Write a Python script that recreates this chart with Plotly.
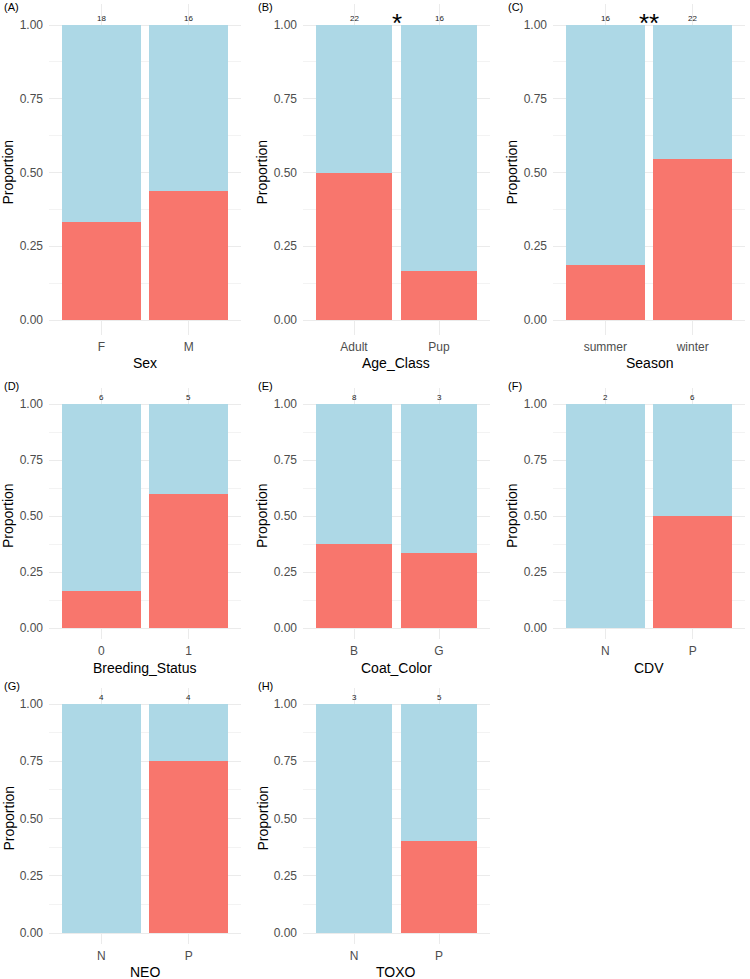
import plotly.graph_objects as go

# ---------------- data ----------------
tags = ["(A)", "(B)", "(C)", "(D)", "(E)", "(F)", "(G)", "(H)"]
variables = ["Sex", "Age_Class", "Season", "Breeding_Status", "Coat_Color", "CDV", "NEO", "TOXO"]
categories = [["F", "M"], ["Adult", "Pup"], ["summer", "winter"], ["0", "1"],
              ["B", "G"], ["N", "P"], ["N", "P"], ["N", "P"]]
positive_prop = [[0.333, 0.4375], [0.5, 0.167], [0.1875, 0.545], [0.167, 0.6],
                 [0.375, 0.333], [0.0, 0.5], [0.0, 0.75], [0.0, 0.4]]
counts = [[18, 16], [22, 16], [16, 22], [6, 5], [8, 3], [2, 6], [4, 4], [3, 5]]
significance = ["", "*", "**", "", "", "", "", ""]
y_ticks = [0, 0.25, 0.5, 0.75, 1.0]
y_tick_labels = ["0.00", "0.25", "0.50", "0.75", "1.00"]

RED = "#F8766D"
BLUE = "#ADD8E6"
FONT = "Liberation Sans, Arial, Helvetica, sans-serif"
W, H = 750, 979

# pixel layout (panel extents)
col_px = [(49, 241), (303, 490), (553, 745)]
# (pixel of y=1, pixel of y=0, x-title offset below y=0)
row_px = [(25, 320, 43), (404, 628, 40), (704, 933, 39)]
YMIN, YMAX = -0.05, 1.07


def px_x(p):
    return p / W


def px_y(p):
    return 1 - p / H


fig = go.Figure()
annotations = []

for i, var in enumerate(variables):
    r, c = divmod(i, 3)
    n = i + 1
    xa = "x" if n == 1 else f"x{n}"
    ya = "y" if n == 1 else f"y{n}"
    cats = categories[i]
    props = positive_prop[i]
    fig.add_trace(go.Bar(x=cats, y=props, marker=dict(color=RED, line=dict(width=0)),
                         width=0.9, xaxis=xa, yaxis=ya, showlegend=False, hoverinfo="skip"))
    fig.add_trace(go.Bar(x=cats, y=[1 - p for p in props], marker=dict(color=BLUE, line=dict(width=0)),
                         width=0.9, xaxis=xa, yaxis=ya, showlegend=False, hoverinfo="skip"))

    x0, x1 = col_px[c]
    y1p, y0p, toff = row_px[r]
    unit = y0p - y1p
    top = y1p - (YMAX - 1) * unit
    bot = y0p - YMIN * unit
    xdom = [px_x(x0), px_x(x1)]
    ydom = [px_y(bot), px_y(top)]

    xkey = "xaxis" if n == 1 else f"xaxis{n}"
    ykey = "yaxis" if n == 1 else f"yaxis{n}"
    fig.update_layout(**{
        xkey: dict(domain=xdom, anchor=ya, type="category", range=[-0.6, 1.6],
                   showgrid=True, gridcolor="#EBEBEB", gridwidth=1,
                   showline=False, zeroline=False, ticks="",
                   ticklabelstandoff=3,
                   tickfont=dict(family=FONT, size=12, color="#4D4D4D")),
        ykey: dict(domain=ydom, anchor=xa, range=[YMIN, YMAX],
                   tickvals=y_ticks, ticktext=y_tick_labels,
                   showgrid=True, gridcolor="#EBEBEB", gridwidth=1,
                   minor=dict(tickvals=[0.125, 0.375, 0.625, 0.875], showgrid=True,
                              gridcolor="#F3F3F3", gridwidth=0.6),
                   showline=False, zeroline=False, ticks="",
                   ticklabelstandoff=5,
                   tickfont=dict(family=FONT, size=12, color="#4D4D4D")),
    })

    # count labels on top of bars
    for cat, cnt in zip(cats, counts[i]):
        annotations.append(dict(x=cat, y=1.0, xref=xa, yref=ya, text=str(cnt),
                                showarrow=False, yanchor="bottom", yshift=0,
                                font=dict(family=FONT, size=8, color="#1A1A1A")))
    # significance stars
    if significance[i]:
        annotations.append(dict(x=0.5, y=1.0, xref=xa, yref=ya, text=significance[i],
                                showarrow=False, yanchor="bottom", yshift=-15,
                                font=dict(family=FONT, size=26, color="#000000")))
    # y title
    annotations.append(dict(x=px_x(x0 - 41), y=px_y((y1p + y0p) / 2), xref="paper", yref="paper",
                            text="Proportion", textangle=-90, showarrow=False,
                            xanchor="center", yanchor="middle",
                            font=dict(family=FONT, size=14, color="#000000")))
    # x title
    annotations.append(dict(x=px_x((x0 + x1) / 2), y=px_y(y0p + toff), xref="paper", yref="paper",
                            text=var, showarrow=False, xanchor="center", yanchor="middle",
                            font=dict(family=FONT, size=14, color="#000000")))
    # panel tag
    annotations.append(dict(x=px_x(x0 - 47), y=px_y(y1p - 18), xref="paper", yref="paper",
                            text=tags[i], showarrow=False, xanchor="left", yanchor="middle",
                            font=dict(family=FONT, size=11, color="#000000")))

fig.update_layout(
    width=W, height=H, barmode="stack", bargap=0.1,
    margin=dict(l=0, r=0, t=0, b=0),
    paper_bgcolor="white", plot_bgcolor="white",
    annotations=annotations,
    font=dict(family=FONT),
)

fig.write_html("out.html", config={"displayModeBar": False},
               post_script="document.body.style.margin='0';document.body.style.overflow='hidden';")
